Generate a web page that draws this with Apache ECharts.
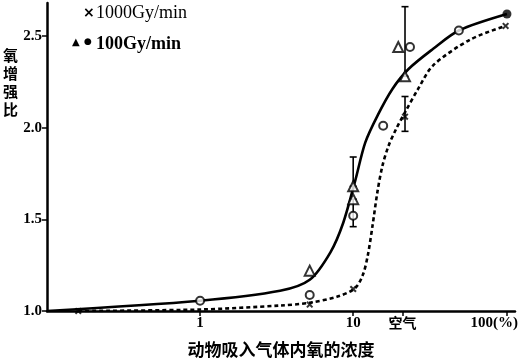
<!DOCTYPE html>
<html>
<head>
<meta charset="utf-8">
<script src="https://cdn.jsdelivr.net/npm/echarts@6/dist/echarts.min.js"></script>
<style>html,body{margin:0;padding:0;background:#fff;}#c{width:524px;height:363px;}</style>
</head>
<body>
<div id="c"></div>
<script>
const xTicks = [1, 10, 21, 100];
const xTickLabels = ['1', '10', '空气', '100(%)'];
const yTicks = [1.0, 1.5, 2.0, 2.5];
const yTickLabels = ['1.0', '1.5', '2.0', '2.5'];

// solid curve (100Gy/min)
const curve100X = [0.1, 1, 3.33, 5.2, 7.1, 8.6, 10.3, 12.0, 14.5, 18.0, 23.0, 33.3, 49, 101];
const curve100Y = [1.0, 1.056, 1.11, 1.17, 1.32, 1.48, 1.71, 1.92, 2.07, 2.21, 2.32, 2.43, 2.53, 2.62];
// dashed curve (1000Gy/min)
const curve1000X = [0.16, 1, 3.33, 5.2, 8.0, 10.3, 11.6, 12.5, 13.4, 14.4, 15.5, 17.0, 19.0, 22.0, 26.5, 33.3, 58, 98.6];
const curve1000Y = [1.0, 1.008, 1.03, 1.045, 1.08, 1.125, 1.2, 1.31, 1.47, 1.65, 1.79, 1.9, 1.99, 2.09, 2.21, 2.34, 2.48, 2.555];

// points
const crossX = [0.16, 5.2, 10, 21.8, 99];
const crossY = [1.0, 1.035, 1.12, 2.06, 2.555];
const triX = [5.2, 10, 10, 19.7, 21.8];
const triY = [1.22, 1.68, 1.61, 2.44, 2.28];
const circX = [1, 5.2, 10, 15.7, 23.5, 49];
const circY = [1.056, 1.087, 1.52, 2.01, 2.44, 2.53];
const dotX = [101];
const dotY = [2.62];

// error bars
const errX = [10, 10, 21.8, 21.8];
const errLow = [1.68, 1.46, 2.28, 1.98];
const errHigh = [1.84, 1.61, 2.66, 2.17];

const zip = (a, b) => a.map((v, i) => [v, b[i]]);
const crossPath = 'path://M0,2L2,0L5,3L8,0L10,2L7,5L10,8L8,10L5,7L2,10L0,8L3,5Z';
const serif = "'Liberation Serif', 'DejaVu Serif', serif";
const cjk = "'Noto Sans CJK SC', sans-serif";

const chart = echarts.init(document.getElementById('c'));
chart.setOption({
  animation: false,
  backgroundColor: '#fff',
  grid: { left: 47, right: 9, top: 3, bottom: 50 },
  xAxis: {
    type: 'log', logBase: 10, min: 0.1, max: 114,
    name: '动物吸入气体内氧的浓度', nameLocation: 'middle', nameGap: 30,
    nameTextStyle: { fontFamily: cjk, fontWeight: 'bold', fontSize: 17, color: '#000' },
    axisLine: { lineStyle: { color: '#000', width: 2.5 } },
    axisTick: { customValues: xTicks, length: 5, lineStyle: { color: '#000', width: 1.5 } },
    minorTick: { show: false },
    splitLine: { show: false },
    axisLabel: {
      customValues: xTicks,
      margin: 5,
      formatter: v => {
        const i = xTicks.findIndex(t => Math.abs(t - v) < 1e-6 * t);
        if (i < 0) return '';
        if (xTickLabels[i] === '空气') return '{k|' + xTickLabels[i] + '}';
        if (i === xTicks.length - 1) return '{r|' + xTickLabels[i] + '}';
        return xTickLabels[i];
      },
      color: '#000', fontFamily: serif, fontWeight: 'bold', fontSize: 15,
      rich: {
        k: { fontFamily: cjk, fontWeight: 'bold', fontSize: 14, color: '#000' },
        r: { fontFamily: serif, fontWeight: 'bold', fontSize: 15, color: '#000', padding: [0, 24, 0, 0] }
      }
    }
  },
  yAxis: {
    type: 'value', min: 1.0, max: 2.68, interval: 0.5,
    axisLine: { show: true, lineStyle: { color: '#000', width: 2.5 } },
    axisTick: { show: true, customValues: yTicks, length: 5, lineStyle: { color: '#000', width: 1.5 } },
    splitLine: { show: false },
    axisLabel: {
      customValues: yTicks,
      margin: 5,
      formatter: v => {
        const i = yTicks.findIndex(t => Math.abs(t - v) < 1e-6);
        return i < 0 ? '' : yTickLabels[i];
      },
      color: '#000', fontFamily: serif, fontWeight: 'bold', fontSize: 15
    }
  },
  graphic: [
    { type: 'text', left: 3, top: 46, style: { text: '氧\n增\n强\n比', font: "bold 15px 'Noto Sans CJK SC'", lineHeight: 18, fill: '#000' } },
    { type: 'text', left: 83, top: 6, style: { text: '×', font: "bold 14px 'DejaVu Sans'", fill: '#000' } },
    { type: 'text', left: 96, top: 4, style: { text: '1000Gy/min', font: "18px " + serif, fill: '#000' } },
    { type: 'text', left: 72, top: 37, style: { text: '▲', font: "10px 'DejaVu Sans'", fill: '#000' } },
    { type: 'text', left: 84, top: 37, style: { text: '●', font: "9px 'DejaVu Sans'", fill: '#000' } },
    { type: 'text', left: 96, top: 35, style: { text: '100Gy/min', font: "bold 18px " + serif, fill: '#000' } }
  ],
  series: [
    {
      name: '100Gy/min 曲线', type: 'line', data: zip(curve100X, curve100Y), smooth: 0.3,
      showSymbol: false, symbol: 'none', lineStyle: { color: '#000', width: 2.6 }, z: 2
    },
    {
      name: '1000Gy/min 曲线', type: 'line', data: zip(curve1000X, curve1000Y), smooth: 0.3,
      showSymbol: false, symbol: 'none', lineStyle: { color: '#000', width: 2.6, type: [4, 3] }, z: 2
    },
    {
      name: '误差', type: 'custom', z: 3,
      data: errX.map((x, i) => [x, errLow[i], errHigh[i]]),
      renderItem: (params, api) => {
        const lo = api.coord([api.value(0), api.value(1)]);
        const hi = api.coord([api.value(0), api.value(2)]);
        const w = 3.5;
        const st = { stroke: '#000', lineWidth: 1.6 };
        return { type: 'group', children: [
          { type: 'line', shape: { x1: lo[0], y1: lo[1], x2: hi[0], y2: hi[1] }, style: st },
          { type: 'line', shape: { x1: lo[0] - w, y1: lo[1], x2: lo[0] + w, y2: lo[1] }, style: st },
          { type: 'line', shape: { x1: hi[0] - w, y1: hi[1], x2: hi[0] + w, y2: hi[1] }, style: st }
        ] };
      }
    },
    {
      name: '1000Gy/min', type: 'scatter', data: zip(crossX, crossY), symbol: crossPath, symbolSize: 7,
      itemStyle: { color: '#000' }, z: 4
    },
    {
      name: '100Gy/min △', type: 'scatter', data: zip(triX, triY), symbol: 'triangle', symbolSize: 10,
      itemStyle: { color: '#fff', borderColor: '#000', borderWidth: 2 }, z: 4
    },
    {
      name: '100Gy/min ○', type: 'scatter', data: zip(circX, circY), symbol: 'circle', symbolSize: 8,
      itemStyle: { color: '#fff', borderColor: '#000', borderWidth: 2 }, z: 4
    },
    {
      name: '100Gy/min ●', type: 'scatter', data: zip(dotX, dotY), symbol: 'circle', symbolSize: 9,
      itemStyle: { color: '#000' }, z: 4
    }
  ]
});
</script>
</body>
</html>
